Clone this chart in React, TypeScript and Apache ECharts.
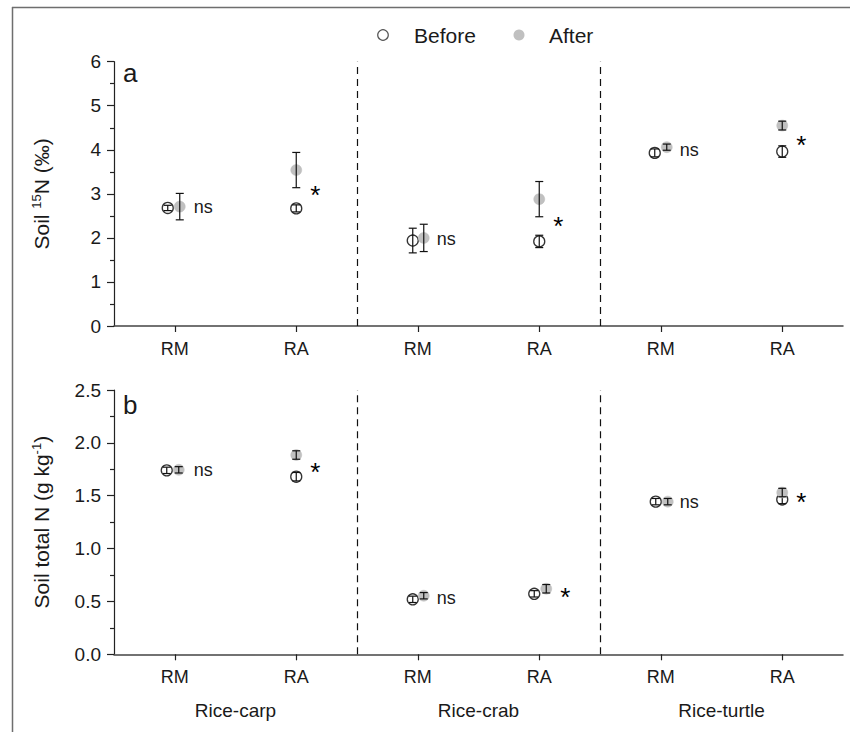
import React, { useEffect, useRef } from "react";
import * as echarts from "echarts";

// ---- data ----
const categories = ["RM", "RA", "RM", "RA", "RM", "RA"];
const systems = ["Rice-carp", "Rice-crab", "Rice-turtle"];

// Soil 15N (‰)
const n15Before = [2.68, 2.67, 1.94, 1.92, 3.93, 3.96];
const n15BeforeErr = [0.06, 0.08, 0.28, 0.14, 0.09, 0.13];
const n15After = [2.71, 3.54, 2.0, 2.88, 4.06, 4.55];
const n15AfterErr = [0.3, 0.4, 0.31, 0.4, 0.07, 0.1];
const n15Sig = ["ns", "*", "ns", "*", "ns", "*"];

// Soil total N (g kg-1)
const tnBefore = [1.74, 1.68, 0.52, 0.572, 1.444, 1.465];
const tnBeforeErr = [0.03, 0.04, 0.03, 0.03, 0.03, 0.04];
const tnAfter = [1.745, 1.885, 0.554, 0.62, 1.444, 1.53];
const tnAfterErr = [0.03, 0.04, 0.03, 0.04, 0.03, 0.04];
const tnSig = ["ns", "*", "ns", "*", "ns", "*"];

// horizontal dodge of markers (pixels)
const dodgeTopBefore = [-7, 0, -5, 0, -6, 0];
const dodgeTopAfter = [5, 0, 6, 0, 6, 0];
const dodgeBotBefore = [-8, 0, -5, -5, -5, 0];
const dodgeBotAfter = [4, 0, 6, 7, 7, 0];

const FONT = "'Liberation Sans', Arial, sans-serif";
const TXT = "#1a1a1a";

function makePointRenderer(kind: "before" | "after") {
  return (params: any, api: any) => {
    const x = api.value(0);
    const m = api.value(1);
    const e = api.value(2);
    const dx = api.value(3);
    const c = api.coord([x, m]);
    const top = api.coord([x, m + e]);
    const bot = api.coord([x, m - e]);
    const cx = c[0] + dx;
    const cap = 4;
    const err = { stroke: "#111", lineWidth: 1.2 };
    return {
      type: "group",
      children: [
        {
          type: "circle",
          shape: { cx, cy: c[1], r: 5.5 },
          style:
            kind === "before"
              ? { fill: "#fff", stroke: "#333", lineWidth: 1.3 }
              : { fill: "#c0c0c0", stroke: "#bcbcbc", lineWidth: 0.5 },
        },
        { type: "line", shape: { x1: cx, y1: top[1], x2: cx, y2: bot[1] }, style: err },
        { type: "line", shape: { x1: cx - cap, y1: top[1], x2: cx + cap, y2: top[1] }, style: err },
        { type: "line", shape: { x1: cx - cap, y1: bot[1], x2: cx + cap, y2: bot[1] }, style: err },
      ],
    };
  };
}

function sigRenderer(params: any, api: any) {
  const x = api.value(0);
  const y = api.value(1);
  const dmax = api.value(2);
  const idx = params.dataIndex;
  const c = api.coord([x, y]);
  const label = params.seriesName === "sigTop" ? n15Sig[idx] : tnSig[idx];
  if (label === "ns") {
    return {
      type: "text",
      style: {
        text: label,
        x: c[0] + 19,
        y: c[1],
        align: "left",
        verticalAlign: "middle",
        fontSize: 18,
        fontFamily: FONT,
        fill: TXT,
      },
    };
  }
  return {
    type: "text",
    style: {
      text: label,
      x: c[0] + 19 + dmax,
      y: c[1] + 6,
      align: "center",
      verticalAlign: "middle",
      fontSize: 26,
      fontFamily: FONT,
      fill: "#000",
    },
  };
}

function pts(means: number[], errs: number[], dodge: number[]) {
  return means.map((v, i) => [i + 0.5, v, errs[i], dodge[i]]);
}
function sigPts(a: number[], b: number[], da: number[], db: number[]) {
  return a.map((v, i) => [i + 0.5, (v + b[i]) / 2, Math.max(da[i], db[i])]);
}

export default function App() {
  const ref = useRef<HTMLDivElement>(null);
  useEffect(() => {
    if (!ref.current) return;
    const chart = echarts.init(ref.current, undefined, { renderer: "svg" });

    const catAxis = (gridIndex: number) => ({
      type: "category",
      gridIndex,
      position: "bottom",
      data: categories,
      boundaryGap: true,
      axisLine: { show: true, lineStyle: { color: "#444", width: 1.5 } },
      axisTick: { show: true, alignWithLabel: true, length: 6, lineStyle: { color: "#222", width: 1.2 } },
      axisLabel: { fontSize: 18, color: TXT, fontFamily: FONT, margin: 14 },
      splitLine: { show: false },
    });
    const valX = (gridIndex: number) => ({
      type: "value",
      gridIndex,
      min: 0,
      max: 6,
      show: false,
      splitLine: { show: false },
    });
    const yAx = (gridIndex: number, max: number, interval: number, digits: number, name: string) => ({
      type: "value",
      gridIndex,
      min: 0,
      max,
      interval,
      name,
      nameLocation: "middle",
      nameGap: 61,
      nameTextStyle: {
        fontSize: 21,
        color: TXT,
        fontFamily: FONT,
        rich: {
          a: { fontSize: 21, color: TXT, fontFamily: FONT },
          sup: { fontSize: 13, color: TXT, fontFamily: FONT, verticalAlign: "top", padding: [0, 0, 10, 0] },
        },
      },
      axisLine: { show: true, lineStyle: { color: "#222", width: 1.2 } },
      axisTick: { show: true, length: 7, lineStyle: { color: "#222", width: 1.2 } },
      minorTick: { show: true, splitNumber: 2, length: 4, lineStyle: { color: "#222", width: 1.2 } },
      axisLabel: {
        fontSize: 19,
        color: TXT,
        fontFamily: FONT,
        margin: 13,
        formatter: (v: number) => v.toFixed(digits),
      },
      splitLine: { show: false },
    });

    const divider = {
      silent: true,
      symbol: ["none", "none"],
      label: { show: false },
      lineStyle: { type: [7, 5], color: "#111", width: 1.2 },
      data: [{ xAxis: 2 }, { xAxis: 4 }],
    };

    chart.setOption({
      animation: false,
      grid: [
        { left: 114, top: 61.7, width: 729, height: 264.3 },
        { left: 114, top: 390, width: 729, height: 264.3 },
      ],
      xAxis: [
        catAxis(0),
        valX(0),
        catAxis(1),
        valX(1),
        {
          type: "category",
          gridIndex: 1,
          position: "bottom",
          data: systems,
          boundaryGap: true,
          axisLine: { show: false },
          axisTick: { show: false },
          axisLabel: { fontSize: 19, color: TXT, fontFamily: FONT, margin: 47 },
        },
      ],
      yAxis: [
        yAx(0, 6, 1, 0, "{a|Soil }{sup|15}{a|N (‰)}"),
        yAx(1, 2.5, 0.5, 1, "{a|Soil total N (g kg}{sup|-1}{a|)}"),
      ],
      graphic: [
        { type: "line", shape: { x1: 12.5, y1: 7, x2: 12.5, y2: 732 }, style: { stroke: "#6e6e6e", lineWidth: 1.5 } },
        { type: "line", shape: { x1: 12, y1: 7.5, x2: 850, y2: 7.5 }, style: { stroke: "#6e6e6e", lineWidth: 1.5 } },
        { type: "circle", shape: { cx: 383, cy: 35, r: 5.3 }, style: { fill: "#fff", stroke: "#555", lineWidth: 1.2 } },
        {
          type: "text",
          style: { text: "Before", x: 414, y: 35, verticalAlign: "middle", fontSize: 21, fontFamily: FONT, fill: TXT },
        },
        { type: "circle", shape: { cx: 519, cy: 35, r: 5.5 }, style: { fill: "#c0c0c0" } },
        {
          type: "text",
          style: { text: "After", x: 549, y: 35, verticalAlign: "middle", fontSize: 21, fontFamily: FONT, fill: TXT },
        },
        {
          type: "text",
          style: { text: "a", x: 123, y: 73, verticalAlign: "middle", fontSize: 26, fontFamily: FONT, fill: TXT },
        },
        {
          type: "text",
          style: { text: "b", x: 123, y: 405, verticalAlign: "middle", fontSize: 26, fontFamily: FONT, fill: TXT },
        },
      ],
      series: [
        {
          type: "custom",
          name: "beforeTop",
          xAxisIndex: 1,
          yAxisIndex: 0,
          renderItem: makePointRenderer("before"),
          data: pts(n15Before, n15BeforeErr, dodgeTopBefore),
          encode: { x: 0, y: 1 },
          markLine: divider,
          z: 3,
        },
        {
          type: "custom",
          name: "afterTop",
          xAxisIndex: 1,
          yAxisIndex: 0,
          renderItem: makePointRenderer("after"),
          data: pts(n15After, n15AfterErr, dodgeTopAfter),
          encode: { x: 0, y: 1 },
          z: 4,
        },
        {
          type: "custom",
          name: "sigTop",
          xAxisIndex: 1,
          yAxisIndex: 0,
          renderItem: sigRenderer,
          data: sigPts(n15Before, n15After, dodgeTopBefore, dodgeTopAfter),
          encode: { x: 0, y: 1 },
          z: 5,
        },
        {
          type: "custom",
          name: "beforeBot",
          xAxisIndex: 3,
          yAxisIndex: 1,
          renderItem: makePointRenderer("before"),
          data: pts(tnBefore, tnBeforeErr, dodgeBotBefore),
          encode: { x: 0, y: 1 },
          markLine: divider,
          z: 3,
        },
        {
          type: "custom",
          name: "afterBot",
          xAxisIndex: 3,
          yAxisIndex: 1,
          renderItem: makePointRenderer("after"),
          data: pts(tnAfter, tnAfterErr, dodgeBotAfter),
          encode: { x: 0, y: 1 },
          z: 4,
        },
        {
          type: "custom",
          name: "sigBot",
          xAxisIndex: 3,
          yAxisIndex: 1,
          renderItem: sigRenderer,
          data: sigPts(tnBefore, tnAfter, dodgeBotBefore, dodgeBotAfter),
          encode: { x: 0, y: 1 },
          z: 5,
        },
      ],
    });
    return () => chart.dispose();
  }, []);
  return (
    <div
      ref={ref}
      style={{ position: "absolute", left: 0, top: 0, width: 850, height: 732, background: "#fff" }}
    />
  );
}
